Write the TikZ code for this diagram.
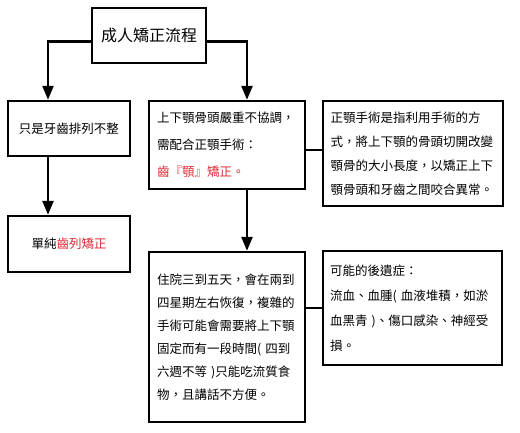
\documentclass[tikz,border=0pt]{standalone}
\usepackage{fontspec}
\setmainfont{Noto Sans CJK TC}
\usetikzlibrary{arrows.meta,calc}
\definecolor{flowred}{RGB}{220,45,55}
\tikzset{
  stepbox/.style={
    draw=black,
    line width=2.4pt,
    fill=white,
    inner sep=0pt,
    align=center,
    font=\fontsize{12.5}{15}\selectfont
  },
  textbox/.style={stepbox, align=left, inner xsep=8pt, font=\fontsize{12.5}{24}\selectfont},
  link/.style={line width=2.6pt},
  flow/.style={link, -{Triangle[length=14pt,width=11pt]}},
}

\begin{document}
\begin{tikzpicture}[x=1pt,y=-1pt]
  \useasboundingbox (0,0) rectangle (520,433);
  % title
  \node[stepbox, minimum width=114pt, minimum height=55pt,
        font=\fontsize{16}{18}\selectfont] (title) at (149,35.5) {成人矯正流程};
  % left column
  \node[stepbox, minimum width=122pt, minimum height=55pt] (left1) at (69,128.5) {只是牙齒排列不整};
  \node[stepbox, minimum width=122pt, minimum height=56pt] (left2) at (69,244) {單純\textcolor{flowred}{齒列矯正}};
  % middle column
  \node[textbox, text width=140pt, minimum height=88pt,
        font=\fontsize{12.5}{27}\selectfont] (mid1) at (227,145)
    {上下顎骨頭嚴重不協調，\\需配合正顎手術：\\\textcolor{flowred}{齒『顎』矯正。}};
  \node[textbox, text width=140pt, minimum height=170pt, font=\fontsize{12.5}{23}\selectfont] (mid2) at (227,337)
    {住院三到五天，會在兩到\\四星期左右恢復，複雜的\\手術可能會需要將上下顎\\固定而有一段時間( 四到\\六週不等 )只能吃流質食\\物，且講話不方便。};
  % right column
  \node[textbox, text width=165pt, inner xsep=7.5pt, minimum height=105pt] (right1) at (413,153.5)
    {正顎手術是指利用手術的方\\式，將上下顎的骨頭切開改變\\顎骨的大小長度，以矯正上下\\顎骨頭和牙齒之間咬合異常。};
  \node[textbox, text width=165pt, inner xsep=7pt, minimum height=114pt, font=\fontsize{12.5}{25}\selectfont] (right2) at (412.5,308)
    {可能的後遺症：\\流血、血腫( 血液堆積，如淤\\血黑青 )、傷口感染、神經受\\損。};

  % connectors
  \draw[flow] ([yshift=-6pt]title.west) -| ([xshift=-21pt]left1.north);
  \draw[flow] ([yshift=-6pt]title.east) -| ([xshift=20pt]mid1.north);
  \draw[flow] ([xshift=-21pt]left1.south) -- ([xshift=-21pt]left2.north);
  \draw[flow] ([xshift=20pt]mid1.south) -- ([xshift=20pt]mid2.north);
  \coordinate (j1) at ($(mid1.east)+(0,5)$);
  \draw[link] (j1) -- (j1 -| right1.west);
  \draw[link] (right2.west) -- (right2.west -| mid2.east);
\end{tikzpicture}
\end{document}
